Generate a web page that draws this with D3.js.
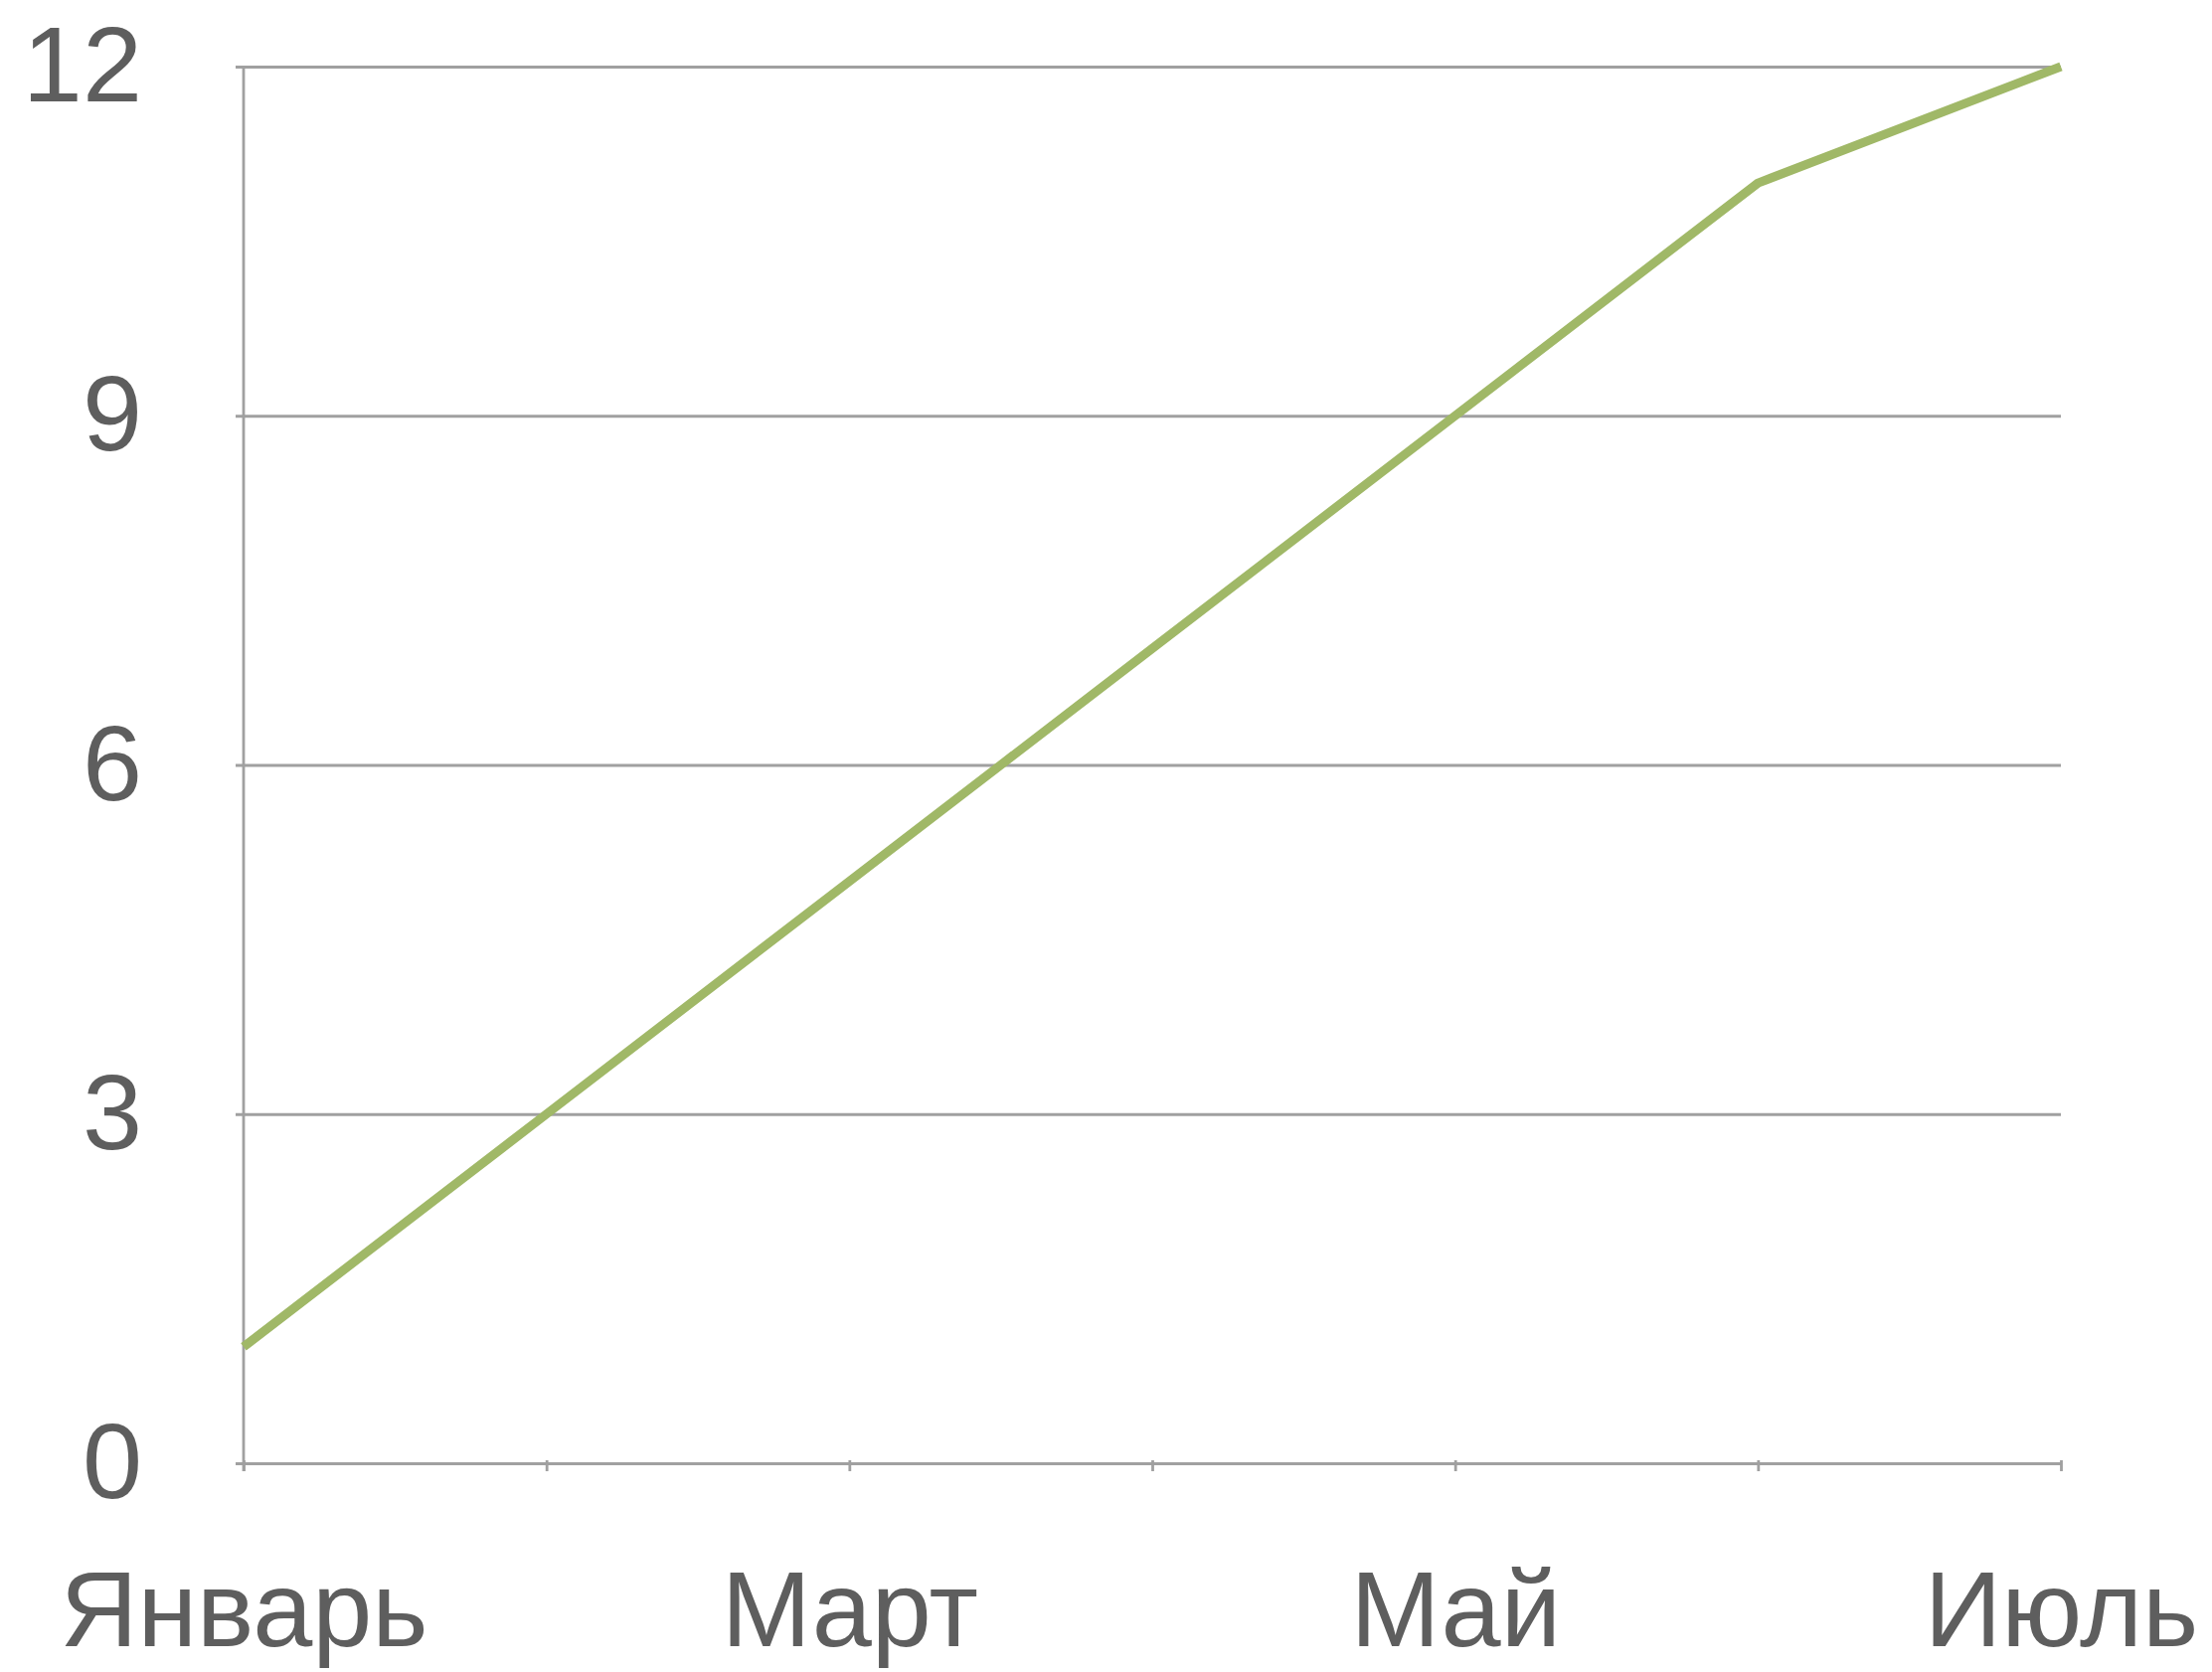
<!DOCTYPE html>
<html>
<head>
<meta charset="utf-8">
<script src="https://cdn.jsdelivr.net/npm/d3@7"></script>
<style>
  body { margin: 0; background: #fff; }
  svg { display: block; }
</style>
</head>
<body>
<div id="chart"></div>
<script>
// chart data
var months = ["Январь", "Февраль", "Март", "Апрель", "Май", "Июнь", "Июль"];
var values = [1, 3, 5, 7, 9, 11, 12];
var yTicks = [0, 3, 6, 9, 12];
var labelledMonths = ["Январь", "Март", "Май", "Июль"];

var margin = {top: 67, right: 152, bottom: 210, left: 245},
    width = 2225 - margin.left - margin.right,
    height = 1682 - margin.top - margin.bottom;

var textColor = "#5e5e5e",
    gridColor = "#a0a0a0",
    fontFamily = "'Liberation Sans', Arial, sans-serif";

var svg = d3.select("#chart").append("svg")
    .attr("width", 2225)
    .attr("height", 1682)
    .append("g")
    .attr("transform", "translate(" + margin.left + "," + margin.top + ")");

var x = d3.scalePoint().domain(months).range([0, width]).padding(0);
var y = d3.scaleLinear().domain([0, 12]).range([height, 0]);

// gridlines + y labels (axis sits at the tick start, 8px left of the plot)
var yAxis = svg.append("g")
    .attr("transform", "translate(-8,0)")
    .call(d3.axisLeft(y)
        .tickValues(yTicks)
        .tickSizeInner(-(width + 8))
        .tickSizeOuter(0)
        .tickPadding(94));
yAxis.select(".domain").remove();
yAxis.selectAll(".tick line")
    .attr("stroke", gridColor)
    .attr("stroke-width", 2.8);
yAxis.selectAll(".tick text")
    .attr("fill", textColor)
    .attr("dy", "0.32em")
    .style("font-family", fontFamily)
    .style("font-size", "108px");

// vertical axis line
svg.append("line")
    .attr("x1", 0).attr("x2", 0)
    .attr("y1", y(12)).attr("y2", y(0) + 8)
    .attr("stroke", gridColor)
    .attr("stroke-width", 2.8);

// x axis
var xAxis = svg.append("g")
    .attr("transform", "translate(0," + height + ")")
    .call(d3.axisBottom(x)
        .tickSizeInner(8)
        .tickSizeOuter(0)
        .tickFormat(function (d) { return labelledMonths.indexOf(d) >= 0 ? d : ""; }));
xAxis.select(".domain")
    .attr("stroke", gridColor)
    .attr("stroke-width", 2.8);
xAxis.selectAll(".tick line")
    .attr("y1", -3)
    .attr("stroke", gridColor)
    .attr("stroke-width", 2.8);
xAxis.selectAll(".tick text")
    .attr("y", 184)
    .attr("dy", 0)
    .attr("fill", textColor)
    .style("font-family", fontFamily)
    .style("font-size", "108px");

// the line
var valueline = d3.line()
    .x(function (d, i) { return x(months[i]); })
    .y(function (d) { return y(d); });

svg.append("path")
    .datum(values)
    .attr("fill", "none")
    .attr("stroke", "#a0b867")
    .attr("stroke-width", 9)
    .attr("stroke-linejoin", "round")
    .attr("stroke-linecap", "butt")
    .attr("d", valueline);
</script>
</body>
</html>
